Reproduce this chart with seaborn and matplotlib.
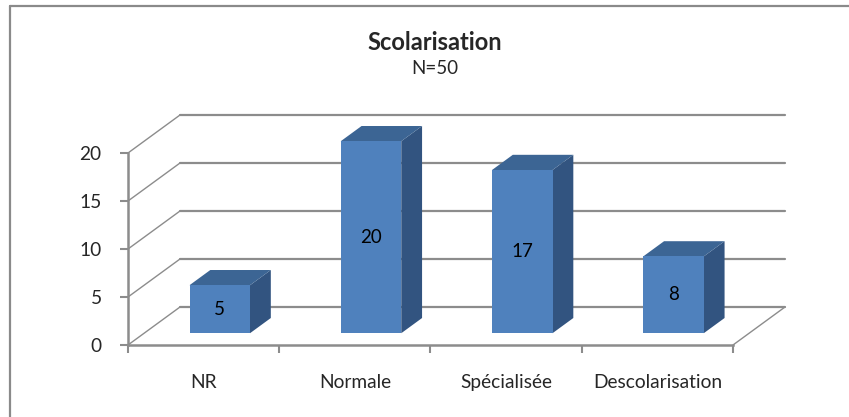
import matplotlib
matplotlib.use("Agg")
import matplotlib.pyplot as plt
from matplotlib.patches import Polygon
from matplotlib.lines import Line2D
import seaborn as sns

categories = ["NR", "Normale", "Spécialisée", "Descolarisation"]
values = [5, 20, 17, 8]
y_ticks = [0, 5, 10, 15, 20]
title = "Scolarisation"
subtitle = "N=50"

FRONT = "#4F81BD"
TOP = "#3C6594"
SIDE = "#325480"
GRID = "#8C8C8C"

# depth of the floor/back wall, in data units (x per category, y per value)
DEPTH_X, DEPTH_Y = 0.344, 3.96
BAR_POS = 0.31   # where the bar front sits along the depth
BAR_DEPTH = 0.40  # bar thickness as a share of the depth

sns.set_style("white")
plt.rcParams["font.family"] = ["Lato", "DejaVu Sans"]

fig = plt.figure(figsize=(8.49, 4.17), dpi=100)
ax = fig.add_axes([128 / 849, 72 / 417, 605 / 849, 192 / 417])

sns.barplot(x=categories, y=values, width=0.4, color=FRONT, saturation=1,
            ax=ax, zorder=5)
ax.set_xlim(-0.5, len(categories) - 0.5)
ax.set_ylim(0, 20)

# back wall grid + left wall diagonals
x0, x1 = -0.5, len(categories) - 0.5
for v in y_ticks:
    ax.add_line(Line2D([x0 + DEPTH_X, x1 + DEPTH_X], [v + DEPTH_Y, v + DEPTH_Y],
                       color=GRID, lw=1.6, clip_on=False, zorder=1))
    ax.add_line(Line2D([x0, x0 + DEPTH_X], [v, v + DEPTH_Y],
                       color=GRID, lw=1.0, clip_on=False, zorder=1))
# right floor edge
ax.add_line(Line2D([x1, x1 + DEPTH_X], [0, DEPTH_Y], color=GRID, lw=1.0,
                   clip_on=False, zorder=1))

# turn flat bars into boxes
sx, sy = DEPTH_X * BAR_POS, DEPTH_Y * BAR_POS
dx, dy = DEPTH_X * BAR_DEPTH, DEPTH_Y * BAR_DEPTH
for patch, v in zip(ax.patches[:len(values)], values):
    bx, bw, bh = patch.get_x(), patch.get_width(), patch.get_height()
    patch.set_xy((bx + sx, sy))
    patch.set_clip_on(False)
    patch.set_edgecolor("none")
    l, r, b, t = bx + sx, bx + sx + bw, sy, sy + bh
    ax.add_patch(Polygon([(r, b), (r + dx, b + dy), (r + dx, t + dy), (r, t)],
                         closed=True, fc=SIDE, ec="none", clip_on=False, zorder=4))
    ax.add_patch(Polygon([(l, t), (l + dx, t + dy), (r + dx, t + dy), (r, t)],
                         closed=True, fc=TOP, ec="none", clip_on=False, zorder=4))
    ax.text((l + r) / 2, b + bh / 2, str(v), ha="center", va="center",
            fontsize=13.5, color="black", zorder=6)

# axes styling
sns.despine(ax=ax, top=True, right=True)
for side in ["left", "bottom"]:
    ax.spines[side].set_color(GRID)
    ax.spines[side].set_linewidth(1.8)
ax.set_yticks(y_ticks)
ax.set_xticks([i - 0.5 for i in range(len(categories) + 1)])
ax.set_xticklabels([])
ax.set_xticks(range(len(categories)), minor=True)
ax.set_xticklabels(categories, minor=True)
ax.tick_params(axis="x", which="major", direction="out", length=6, color=GRID,
               width=1.5, bottom=True)
ax.tick_params(axis="x", which="minor", length=0, pad=21, labelsize=13.8)
ax.tick_params(axis="y", direction="out", length=6, color=GRID, width=1.5,
               left=True, pad=13, labelsize=13.8)
ax.set_xlabel("")
ax.set_ylabel("")

fig.text(435 / 849, 1 - 42 / 417, title, ha="center", va="center",
         fontsize=17, fontweight="bold")
fig.text(435 / 849, 1 - 68 / 417, subtitle, ha="center", va="center",
         fontsize=13.5)

# chart frame (only top and left edges are visible)
fig.add_artist(Line2D([9.5 / 849, 1], [1 - 5.5 / 417, 1 - 5.5 / 417],
                      transform=fig.transFigure, color="#8A8A8A", lw=1.6))
fig.add_artist(Line2D([9.5 / 849, 9.5 / 849], [0, 1 - 5.5 / 417],
                      transform=fig.transFigure, color="#8A8A8A", lw=1.6))

fig.savefig("out.png", dpi=100)
